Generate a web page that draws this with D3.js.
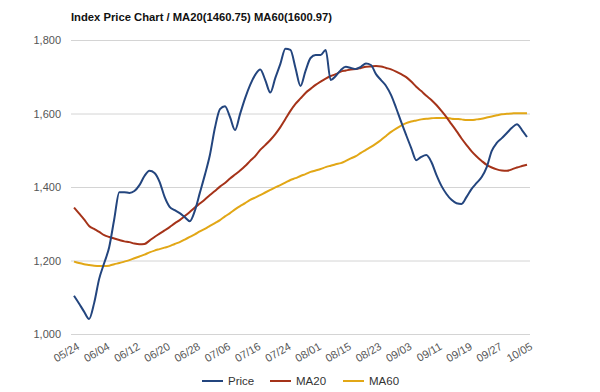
<!DOCTYPE html>
<html>
<head>
<meta charset="utf-8">
<script src="https://cdn.jsdelivr.net/npm/d3@7"></script>
<style>
  html, body { margin: 0; padding: 0; background: #fff; }
  svg { display: block; font-family: "Liberation Sans", Arial, sans-serif; }
</style>
</head>
<body>
<svg id="chart" width="600" height="392"></svg>
<script>
const title = "Index Price Chart / MA20(1460.75) MA60(1600.97)";
const tickLabels = ["05/24","06/04","06/12","06/20","06/28","07/06","07/16","07/24","08/01","08/15","08/23","09/03","09/11","09/19","09/27","10/05"];
const labelEvery = 6;
const yTicks = [1000, 1200, 1400, 1600, 1800];
const seriesNames = ["Price", "MA20", "MA60"];

const price = [1104,1083,1061,1041,1084,1150,1193,1237,1313,1386,
  1386,1384,1389,1405,1430,1444,1438,1414,1373,1346,
  1337,1329,1318,1307,1335,1384,1433,1487,1561,1612,
  1620,1590,1555,1599,1642,1678,1705,1720,1691,1657,
  1697,1735,1776,1773,1724,1675,1716,1751,1759,1759,
  1773,1691,1702,1718,1727,1724,1721,1727,1736,1732,
  1707,1691,1675,1650,1615,1577,1541,1506,1473,1482,
  1487,1468,1433,1403,1381,1365,1356,1354,1373,1395,
  1411,1427,1454,1498,1520,1533,1547,1561,1571,1555,1536];

const ma20 = [1344,1328,1312,1294,1286,1278,1269,1264,1260,1256,
  1252,1250,1246,1244,1245,1254,1264,1273,1282,1291,
  1301,1310,1321,1332,1344,1355,1366,1378,1389,1401,
  1411,1423,1434,1445,1457,1471,1484,1501,1514,1528,
  1544,1563,1585,1607,1626,1641,1656,1667,1678,1687,
  1695,1702,1707,1714,1717,1720,1721,1724,1727,1728,
  1729,1728,1724,1720,1714,1707,1699,1687,1673,1661,
  1648,1637,1623,1607,1590,1571,1552,1532,1514,1497,
  1483,1471,1460,1453,1448,1445,1444,1448,1453,1457,1460.75];

const ma60 = [1197,1193,1190,1188,1186,1185,1185,1186,1190,1193,
  1197,1201,1206,1211,1216,1222,1227,1231,1235,1239,
  1245,1250,1257,1264,1271,1279,1286,1294,1302,1310,
  1320,1329,1339,1348,1356,1365,1371,1378,1385,1392,
  1399,1405,1412,1419,1424,1430,1435,1441,1445,1449,
  1454,1458,1462,1465,1471,1478,1484,1493,1501,1509,
  1518,1528,1539,1550,1559,1567,1574,1578,1581,1584,
  1586,1587,1588,1588,1588,1586,1585,1584,1582,1582,
  1584,1586,1589,1592,1595,1598,1599,1600,1601,1601,1600.97];

const colors = ["#23457e", "#a53319", "#e2a716"];

const svg = d3.select("#chart");
const gridLeft = 71, gridRight = 530;
const x = d3.scaleLinear().domain([0, price.length - 1]).range([74, 527]);
const y = d3.scaleLinear().domain([1000, 1800]).range([334, 40]);

// title
svg.append("text")
  .attr("x", 71).attr("y", 21)
  .attr("font-size", 11.5).attr("font-weight", "bold").attr("fill", "#111")
  .attr("textLength", 261).attr("lengthAdjust", "spacingAndGlyphs")
  .text(title);

// y axis grid + labels
const yAxis = d3.axisLeft(y).tickValues(yTicks).tickSize(-(gridRight - gridLeft))
  .tickFormat(d3.format(","));
const gy = svg.append("g").attr("transform", `translate(${gridLeft},0)`).call(yAxis);
gy.select(".domain").remove();
gy.selectAll(".tick line").attr("stroke", "#d4d4d4").attr("stroke-width", 1);
gy.selectAll(".tick text").attr("x", -10).attr("dy", "0.35em")
  .attr("font-size", 11).attr("fill", "#555").attr("font-family", "Liberation Sans, Arial, sans-serif");

// x axis labels
const tickIdx = tickLabels.map((_, i) => i * labelEvery);
const xAxis = d3.axisBottom(x).tickValues(tickIdx).tickSize(0)
  .tickFormat((d, i) => tickLabels[i]);
const gx = svg.append("g").attr("transform", "translate(0,338)").call(xAxis);
gx.select(".domain").remove();
gx.selectAll(".tick text")
  .attr("font-size", 11).attr("fill", "#555")
  .attr("font-family", "Liberation Sans, Arial, sans-serif")
  .attr("text-anchor", "end")
  .attr("transform", "translate(2,4) rotate(-30)")
  .attr("dy", "0.7em").attr("y", 0).attr("x", 0);

// lines
const allSeries = [price, ma20, ma60];
const line = d3.line().x((d, i) => x(i)).y(d => y(d)).curve(d3.curveMonotoneX);
[2, 1, 0].forEach(k => {
  svg.append("path")
    .datum(allSeries[k])
    .attr("fill", "none")
    .attr("stroke", colors[k])
    .attr("stroke-width", 2)
    .attr("stroke-linejoin", "round")
    .attr("d", line);
});

// legend
const legendX = [202, 270, 343];
const lg = svg.append("g").attr("transform", "translate(0,381)");
seriesNames.forEach((name, i) => {
  lg.append("line").attr("x1", legendX[i]).attr("x2", legendX[i] + 21)
    .attr("y1", 0).attr("y2", 0).attr("stroke", colors[i]).attr("stroke-width", 2);
  lg.append("text").attr("x", legendX[i] + 26).attr("y", 0).attr("dy", "0.35em")
    .attr("font-size", 11.5).attr("fill", "#333").text(name);
});
</script>
</body>
</html>
